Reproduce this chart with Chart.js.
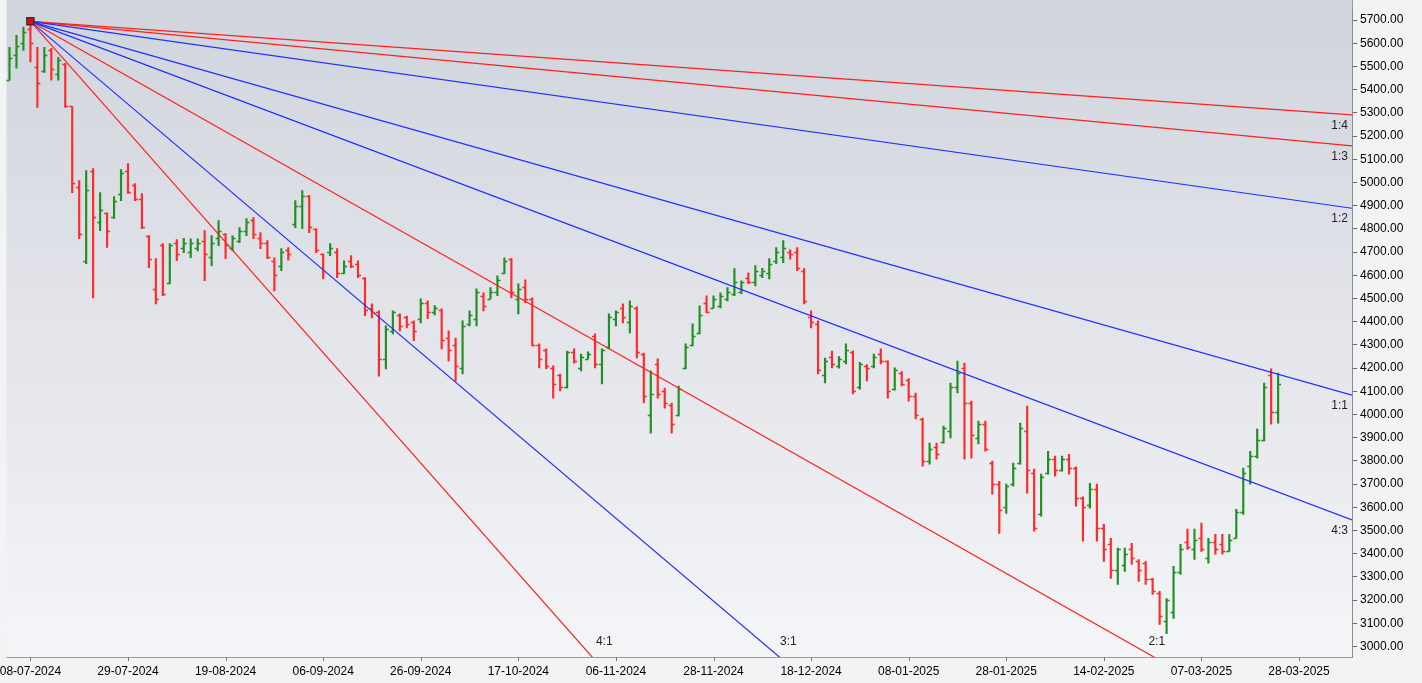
<!DOCTYPE html>
<html>
<head>
<meta charset="utf-8">
<script src="https://cdn.jsdelivr.net/npm/chart.js@4"></script>
<style>
  html, body { margin: 0; padding: 0; background: #f2f3f5; }
  #wrap { width: 1422px; height: 683px; }
</style>
</head>
<body>
<div id="wrap"><canvas id="gann"></canvas></div>
<script>
// daily OHLC, one entry per trading day
const opens = [
  5441,5550,5600,5660,5500,5480,5570,5470,5510,5328,
  4980,4660,5050,4830,4870,4850,4950,5050,4990,4930,
  4770,4540,4730,4565,4740,4720,4700,4720,4750,4680,
  4760,4780,4720,4750,4790,4840,4760,4740,4660,4640,
  4710,4820,4900,4940,4800,4690,4700,4700,4610,4660,
  4650,4590,4460,4440,4240,4360,4430,4420,4400,4410,
  4480,4440,4450,4330,4300,4200,4390,4410,4510,4500,
  4530,4610,4670,4500,4550,4500,4300,4280,4200,4170,
  4120,4270,4200,4240,4340,4220,4290,4410,4460,4400,
  4460,4260,4000,4220,4100,4040,4000,4200,4300,4350,
  4480,4460,4470,4500,4520,4530,4590,4570,4600,4610,
  4660,4680,4700,4700,4620,4420,4390,4170,4250,4210,
  4230,4270,4120,4210,4210,4260,4230,4110,4180,4150,
  4080,3980,3800,3860,3880,3930,4120,4200,4050,3900,
  3960,3790,3700,3600,3700,3790,3930,3750,3570,3750,
  3810,3760,3810,3770,3640,3610,3680,3510,3440,3330,
  3350,3420,3370,3360,3290,3230,3110,3150,3320,3450,
  3420,3470,3380,3450,3440,3410,3470,3580,3780,3820,
  3890,4170,4010
];
const highs = [
  5583,5635,5670,5700,5583,5583,5579,5540,5514,5328,
  5009,5052,5060,4957,4870,4940,5056,5082,4996,4953,
  4771,4672,4737,4737,4754,4760,4758,4758,4793,4771,
  4836,4780,4770,4806,4845,4849,4784,4750,4676,4715,
  4720,4922,4966,4945,4801,4693,4737,4715,4663,4685,
  4663,4590,4477,4447,4382,4447,4434,4425,4404,4499,
  4490,4470,4456,4361,4330,4404,4447,4542,4525,4547,
  4598,4676,4672,4564,4581,4503,4305,4283,4210,4175,
  4274,4283,4261,4270,4348,4283,4434,4447,4477,4490,
  4464,4265,4188,4240,4114,4050,4123,4305,4391,4469,
  4512,4512,4525,4547,4629,4577,4611,4642,4630,4672,
  4720,4750,4710,4720,4629,4447,4404,4244,4274,4250,
  4305,4275,4225,4215,4261,4283,4232,4201,4185,4155,
  4093,3985,3877,3877,3950,4136,4231,4222,4058,3972,
  3972,3799,3712,3700,3791,3963,4037,3765,3743,3842,
  3821,3821,3829,3775,3645,3704,3700,3527,3467,3424,
  3424,3445,3375,3367,3294,3238,3207,3346,3441,3506,
  3506,3532,3467,3484,3484,3484,3592,3769,3842,3937,
  4136,4197,4179
];
const lows = [
  5441,5493,5570,5520,5324,5475,5441,5441,5324,4957,
  4758,4650,4503,4793,4720,4845,4922,4953,4922,4801,
  4633,4477,4512,4564,4663,4698,4676,4705,4577,4642,
  4728,4672,4705,4741,4771,4758,4715,4672,4533,4620,
  4665,4806,4801,4784,4698,4585,4685,4590,4607,4633,
  4590,4426,4417,4166,4197,4348,4361,4374,4318,4395,
  4413,4430,4283,4231,4145,4175,4382,4382,4447,4499,
  4512,4607,4503,4434,4482,4296,4201,4197,4071,4102,
  4114,4222,4188,4240,4201,4132,4283,4382,4395,4352,
  4244,4050,3920,4071,4028,3920,3994,4197,4296,4348,
  4439,4460,4460,4490,4512,4521,4564,4555,4590,4585,
  4650,4655,4670,4620,4477,4374,4175,4136,4201,4200,
  4218,4089,4110,4145,4201,4218,4071,4105,4123,4058,
  3981,3778,3786,3808,3877,3899,4093,3808,3812,3873,
  3842,3657,3488,3574,3691,3786,3661,3497,3562,3743,
  3734,3756,3743,3605,3454,3596,3454,3367,3294,3268,
  3324,3354,3281,3268,3225,3095,3056,3121,3311,3419,
  3376,3410,3359,3398,3398,3410,3467,3570,3700,3812,
  3886,3959,3963
];
const closes = [
  5536,5590,5650,5600,5430,5550,5490,5530,5330,5000,
  4780,4970,4850,4880,4790,4920,5040,4960,4930,4810,
  4670,4500,4520,4730,4690,4740,4740,4740,4690,4740,
  4790,4730,4760,4790,4830,4780,4740,4680,4600,4700,
  4690,4900,4940,4810,4710,4620,4720,4610,4640,4640,
  4600,4450,4440,4240,4370,4440,4380,4390,4360,4480,
  4440,4460,4320,4280,4210,4380,4430,4530,4470,4530,
  4580,4660,4530,4540,4500,4300,4240,4210,4130,4120,
  4270,4230,4250,4260,4220,4280,4420,4440,4420,4470,
  4270,4080,4090,4090,4050,3960,4110,4290,4340,4430,
  4440,4500,4510,4530,4570,4570,4570,4620,4620,4650,
  4700,4720,4690,4630,4490,4400,4190,4230,4220,4240,
  4280,4100,4220,4200,4250,4230,4100,4190,4130,4080,
  4000,3800,3850,3830,3940,4120,4180,4050,3910,3960,
  3850,3700,3590,3690,3770,3940,3760,3510,3730,3810,
  3760,3810,3770,3640,3600,3680,3510,3420,3330,3420,
  3400,3380,3330,3290,3240,3130,3200,3320,3420,3430,
  3460,3420,3450,3420,3410,3460,3580,3750,3820,3890,
  4120,4010,4130
];

// x-axis labels, one every 14 trading days starting at bar 3
const tickLabels = [
  '08-07-2024','29-07-2024','19-08-2024','06-09-2024','26-09-2024','17-10-2024','06-11-2024',
  '28-11-2024','18-12-2024','08-01-2025','28-01-2025','14-02-2025','07-03-2025','28-03-2025'
];
const yTicks = [3000,3100,3200,3300,3400,3500,3600,3700,3800,3900,4000,4100,4200,4300,
  4400,4500,4600,4700,4800,4900,5000,5100,5200,5300,5400,5500,5600,5700];

// Gann fan from the pivot high
const pivotBar = 3;
const pivotPrice = 5695;
const unitPerBar = 8.5;
const fanNames = ['4:1','3:1','2:1','4:3','1:1','1:2','1:3','1:4'];
const fanRatios = [4, 3, 2, 4/3, 1, 1/2, 1/3, 1/4];
const fanColors = ['#ff2020','#2030ff','#ff2020','#2030ff','#2030ff','#2030ff','#ff2020','#ff2020'];

const X_MIN = -0.43, X_MAX = 192.6, Y_MIN = 2955, Y_MAX = 5743;
const UP = '#228f22', DOWN = '#ff2a2a';

const barColors = closes.map((c, i) => c >= opens[i] ? UP : DOWN);
const rangeData = highs.map((h, i) => ({ x: i, y: [lows[i], h] }));

// fan lines run from the pivot out to the right edge and are clipped to the plot
const fanSets = fanRatios.map((r, k) => ({
  type: 'line',
  label: fanNames[k],
  data: [
    { x: pivotBar, y: pivotPrice },
    { x: X_MAX, y: pivotPrice - r * unitPerBar * (X_MAX - pivotBar) }
  ],
  borderColor: fanColors[k],
  borderWidth: 1.2,
  pointRadius: 0,
  order: 2
}));

const bgPlugin = {
  id: 'bg',
  beforeDraw(chart) {
    const { ctx, chartArea: a } = chart;
    ctx.save();
    ctx.fillStyle = '#f2f3f5';
    ctx.fillRect(0, 0, chart.width, chart.height);
    const g = ctx.createLinearGradient(0, 0, 0, a.bottom);
    g.addColorStop(0, '#d0d4dc');
    g.addColorStop(1, '#f4f5f7');
    ctx.fillStyle = g;
    ctx.fillRect(a.left, 0, a.right - a.left, a.bottom);
    ctx.strokeStyle = '#9a9a9a';
    ctx.lineWidth = 1;
    ctx.beginPath();
    ctx.moveTo(a.left, a.bottom + 0.5);
    ctx.lineTo(a.right, a.bottom + 0.5);
    ctx.moveTo(a.right + 0.5, 0);
    ctx.lineTo(a.right + 0.5, a.top);
    ctx.stroke();
    ctx.restore();
  }
};

const ohlcPlugin = {
  id: 'ohlcTicks',
  afterDatasetsDraw(chart) {
    const { ctx, scales: { x, y }, chartArea: a } = chart;
    ctx.save();
    ctx.lineWidth = 1.5;
    opens.forEach((o, i) => {
      const px = x.getPixelForValue(i);
      ctx.strokeStyle = barColors[i];
      ctx.beginPath();
      ctx.moveTo(px - 3, Math.round(y.getPixelForValue(o)) + 0.5);
      ctx.lineTo(px, Math.round(y.getPixelForValue(o)) + 0.5);
      ctx.moveTo(px, Math.round(y.getPixelForValue(closes[i])) + 0.5);
      ctx.lineTo(px + 3, Math.round(y.getPixelForValue(closes[i])) + 0.5);
      ctx.stroke();
    });

    // fan labels
    ctx.font = '12px "Liberation Sans", Arial, sans-serif';
    ctx.fillStyle = '#222';
    fanRatios.forEach((r, k) => {
      const endVal = pivotPrice - r * unitPerBar * (X_MAX - pivotBar);
      if (endVal > Y_MIN + 60) {
        ctx.textAlign = 'right';
        ctx.fillText(fanNames[k], a.right - 4, y.getPixelForValue(endVal) + 14);
      } else {
        const hitBar = pivotBar + (pivotPrice - 3000) / (r * unitPerBar);
        ctx.textAlign = 'left';
        ctx.fillText(fanNames[k], x.getPixelForValue(hitBar) + 13, y.getPixelForValue(3000) - 2);
      }
    });

    // x labels
    ctx.fillStyle = '#000';
    ctx.textAlign = 'center';
    ctx.textBaseline = 'middle';
    tickLabels.forEach((t, k) => {
      const px = x.getPixelForValue(pivotBar + 14 * k);
      ctx.fillText(t, px, a.bottom + 15);
      ctx.strokeStyle = '#777';
      ctx.lineWidth = 1;
      ctx.beginPath();
      ctx.moveTo(Math.round(px) + 0.5, a.bottom);
      ctx.lineTo(Math.round(px) + 0.5, a.bottom + 4);
      ctx.stroke();
    });
    ctx.restore();
  }
};

new Chart(document.getElementById('gann'), {
  data: {
    datasets: [
      {
        type: 'bar',
        data: rangeData,
        backgroundColor: barColors,
        borderWidth: 0,
        barThickness: 1.5,
        order: 3
      },
      ...fanSets,
      {
        type: 'scatter',
        data: [{ x: pivotBar, y: pivotPrice }],
        pointStyle: 'rect',
        pointRadius: 5,
        backgroundColor: '#ff0000',
        borderColor: '#333',
        borderWidth: 1.5,
        order: 1
      }
    ]
  },
  options: {
    responsive: true,
    maintainAspectRatio: false,
    animation: false,
    layout: { padding: { left: 0, right: 0, top: 0, bottom: 26 } },
    plugins: { legend: { display: false }, tooltip: { enabled: false } },
    scales: {
      x: {
        type: 'linear',
        min: X_MIN,
        max: X_MAX,
        offset: false,
        display: false,
        grid: { display: false }
      },
      y: {
        position: 'right',
        min: Y_MIN,
        max: Y_MAX,
        afterBuildTicks: s => { s.ticks = yTicks.map(v => ({ value: v })); },
        afterFit: s => { s.width = 70; },
        grid: { drawOnChartArea: false, drawTicks: true, tickLength: 5, color: '#666' },
        border: { display: true, color: '#8a8a8a' },
        ticks: {
          color: '#000',
          padding: 3,
          font: { family: '"Liberation Sans", Arial, sans-serif', size: 12 },
          callback: v => Number(v).toFixed(2)
        }
      }
    }
  },
  plugins: [bgPlugin, ohlcPlugin]
});
</script>
</body>
</html>
